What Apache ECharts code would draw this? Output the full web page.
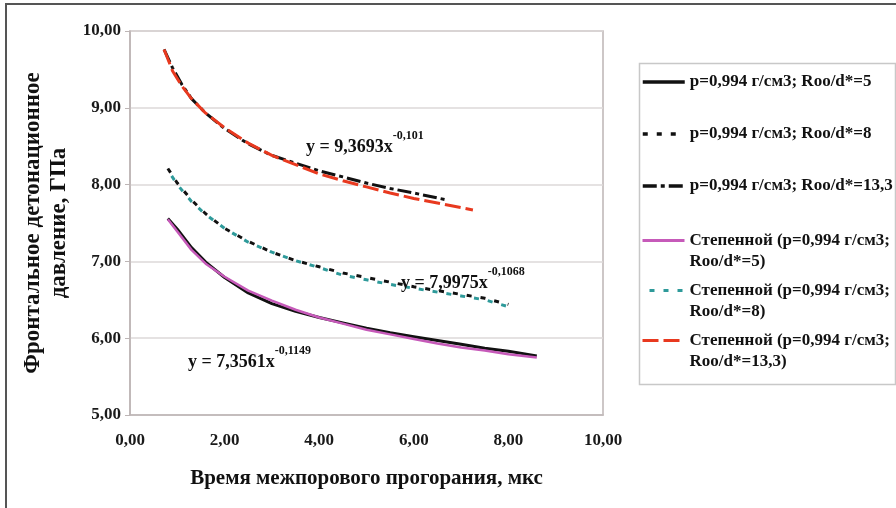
<!DOCTYPE html>
<html>
<head>
<meta charset="utf-8">
<script src="https://cdn.jsdelivr.net/npm/echarts@6/dist/echarts.min.js"></script>
<style>
  html, body { margin: 0; padding: 0; background: #fff; }
  #frame { position: absolute; left: 5px; top: 3px; width: 891px; height: 505px;
           border-left: 2px solid #555; border-top: 2px solid #555; box-sizing: border-box; }
  #chart { position: absolute; left: 0; top: 0; width: 896px; height: 508px; }
</style>
</head>
<body>
<div id="frame"></div>
<div id="chart"></div>
<script>
// Roo/d* = 5
const x5 = [0.8, 1.0, 1.3, 1.6, 2.0, 2.5, 3.0, 3.5, 4.0, 4.5, 5.0, 5.5, 6.0, 6.5, 7.0, 7.5, 8.0, 8.6];
const data5 = [7.56, 7.42, 7.18, 6.99, 6.79, 6.59, 6.45, 6.35, 6.27, 6.20, 6.13, 6.07, 6.02, 5.97, 5.92, 5.87, 5.83, 5.77];
const trend5 = [7.55, 7.39, 7.15, 6.97, 6.80, 6.62, 6.49, 6.37, 6.27, 6.19, 6.11, 6.05, 5.99, 5.93, 5.88, 5.84, 5.79, 5.75];

// Roo/d* = 8
const x8 = [0.8, 1.0, 1.3, 1.6, 2.0, 2.5, 3.0, 3.5, 4.0, 4.5, 5.0, 5.5, 6.0, 6.5, 7.0, 7.5, 8.0];
const data8 = [8.21, 8.02, 7.80, 7.62, 7.43, 7.26, 7.12, 7.01, 6.93, 6.85, 6.79, 6.73, 6.67, 6.62, 6.57, 6.52, 6.44];
const trend8 = [8.19, 8.00, 7.78, 7.61, 7.43, 7.25, 7.12, 7.01, 6.92, 6.82, 6.76, 6.70, 6.65, 6.60, 6.55, 6.50, 6.41];

// Roo/d* = 13,3
const x13 = [0.72, 0.9, 1.1, 1.3, 1.6, 2.0, 2.5, 3.0, 3.5, 4.0, 4.5, 5.0, 5.5, 6.0, 6.7];
const data13 = [9.76, 9.52, 9.30, 9.12, 8.93, 8.73, 8.53, 8.38, 8.28, 8.18, 8.10, 8.02, 7.95, 7.89, 7.80];
const xTrend13 = [0.72, 0.9, 1.1, 1.3, 1.6, 2.0, 2.5, 3.0, 3.5, 4.0, 4.5, 5.0, 5.5, 6.0, 6.5, 7.0, 7.25];
const trend13 = [9.76, 9.48, 9.28, 9.12, 8.93, 8.74, 8.54, 8.38, 8.26, 8.14, 8.05, 7.97, 7.89, 7.82, 7.76, 7.70, 7.67];

const seriesNames = [
    'p=0,994 г/см3; Roo/d*=5',
    'p=0,994 г/см3; Roo/d*=8',
    'p=0,994 г/см3; Roo/d*=13,3',
    'Степенной (p=0,994 г/см3;\nRoo/d*=5)',
    'Степенной (p=0,994 г/см3;\nRoo/d*=8)',
    'Степенной (p=0,994 г/см3;\nRoo/d*=13,3)'
];

const equations = [
    { main: 'y = 9,3693x', pow: '-0,101', left: 306, top: 130 },
    { main: 'y = 7,9975x', pow: '-0,1068', left: 401, top: 266 },
    { main: 'y = 7,3561x', pow: '-0,1149', left: 188, top: 345 }
];

const zip = (xs, ys) => xs.map((x, i) => [x, ys[i]]);
const SERIF = '"Liberation Serif", "DejaVu Serif", serif';
const fmt = v => v.toFixed(2).replace('.', ',');

function lineSeries(name, data, color, width, type, z, offset) {
    return {
        name: name, type: 'line', data: data, symbol: 'none', smooth: false, z: z,
        lineStyle: { color: color, width: width, type: type, dashOffset: offset || 0 },
        itemStyle: { color: color, opacity: 0 }
    };
}

const chart = echarts.init(document.getElementById('chart'));
const legendText = { fontFamily: SERIF, fontWeight: 'bold', fontSize: 17, color: '#111' };

chart.setOption({
    animation: false,
    grid: { left: 130, top: 31, right: 293, bottom: 93, show: true, borderColor: '#bdb5b5', borderWidth: 1.5,
            containLabel: false, outerBoundsMode: 'none' },
    xAxis: {
        type: 'value', min: 0, max: 10, interval: 2,
        name: 'Время межпорового прогорания, мкс', nameLocation: 'middle', nameGap: 53,
        nameTextStyle: { fontFamily: SERIF, fontWeight: 'bold', fontSize: 21, color: '#111' },
        axisLine: { show: true, lineStyle: { color: '#bdb5b5', width: 1.5 } },
        axisTick: { show: false },
        splitLine: { show: false },
        axisLabel: { formatter: fmt, margin: 17, fontFamily: SERIF, fontWeight: 'bold', fontSize: 17, color: '#1a1a1a' }
    },
    yAxis: {
        type: 'value', min: 5, max: 10, interval: 1,
        name: 'Фронтальное детонационное\nдавление, ГПа', nameLocation: 'middle', nameGap: 47,
        nameTextStyle: { fontFamily: SERIF, fontWeight: 'bold', fontSize: 23, color: '#111', lineHeight: 26 },
        axisLine: { show: true, lineStyle: { color: '#bdb5b5', width: 1.5 } },
        axisTick: { show: true, length: 5, lineStyle: { color: '#bdb5b5' } },
        splitLine: { show: true, lineStyle: { color: '#dcd8d8', width: 1.5 } },
        axisLabel: { formatter: fmt, margin: 9, fontFamily: SERIF, fontWeight: 'bold', fontSize: 17, color: '#1a1a1a' }
    },
    legend: [
        {
            data: seriesNames.slice(0, 3), orient: 'vertical', left: 641, top: 72, padding: 0,
            itemWidth: 42, itemHeight: 14, itemGap: 32,
            itemStyle: { opacity: 0 },
            lineStyle: { width: 3.5 },
            textStyle: Object.assign({ lineHeight: 20 }, legendText)
        },
        {
            // leading empty line keeps the sample line level with the first text line
            data: seriesNames.slice(3), orient: 'vertical', left: 641, top: 209, padding: 0,
            itemWidth: 42, itemHeight: 14, itemGap: -13,
            itemStyle: { opacity: 0 },
            lineStyle: { width: 3 },
            formatter: name => '\n' + name,
            textStyle: Object.assign({ lineHeight: 21 }, legendText)
        }
    ],
    graphic: [
        { type: 'rect', left: 637, top: 61, shape: { width: 256, height: 321 }, style: { fill: 'none', stroke: '#c8c8c8', lineWidth: 1.5 }, silent: true }
    ].concat(equations.map(e => ({
        type: 'text', left: e.left, top: e.top, silent: true, z: 100,
        style: {
            text: '{m|' + e.main + '}{p|' + e.pow + '}',
            rich: {
                m: { fontFamily: SERIF, fontWeight: 'bold', fontSize: 18, fill: '#111', lineHeight: 26, verticalAlign: 'bottom' },
                p: { fontFamily: SERIF, fontWeight: 'bold', fontSize: 12, fill: '#111', lineHeight: 26, verticalAlign: 'top' }
            }
        }
    }))),
    series: [
        lineSeries(seriesNames[0], zip(x5, data5), '#111', 3, 'solid', 2),
        lineSeries(seriesNames[1], zip(x8, data8), '#111', 3, [5, 9], 2),
        lineSeries(seriesNames[2], zip(x13, data13), '#111', 3, [14, 4, 4, 4], 2),
        lineSeries(seriesNames[3], zip(x5, trend5), '#c65ab9', 2.5, 'solid', 3),
        lineSeries(seriesNames[4], zip(x8, trend8), '#2e9a9a', 3, [5, 9], 3, 7),
        lineSeries(seriesNames[5], zip(xTrend13, trend13), '#e8391f', 3, [16, 5], 3)
    ]
});
</script>
</body>
</html>
